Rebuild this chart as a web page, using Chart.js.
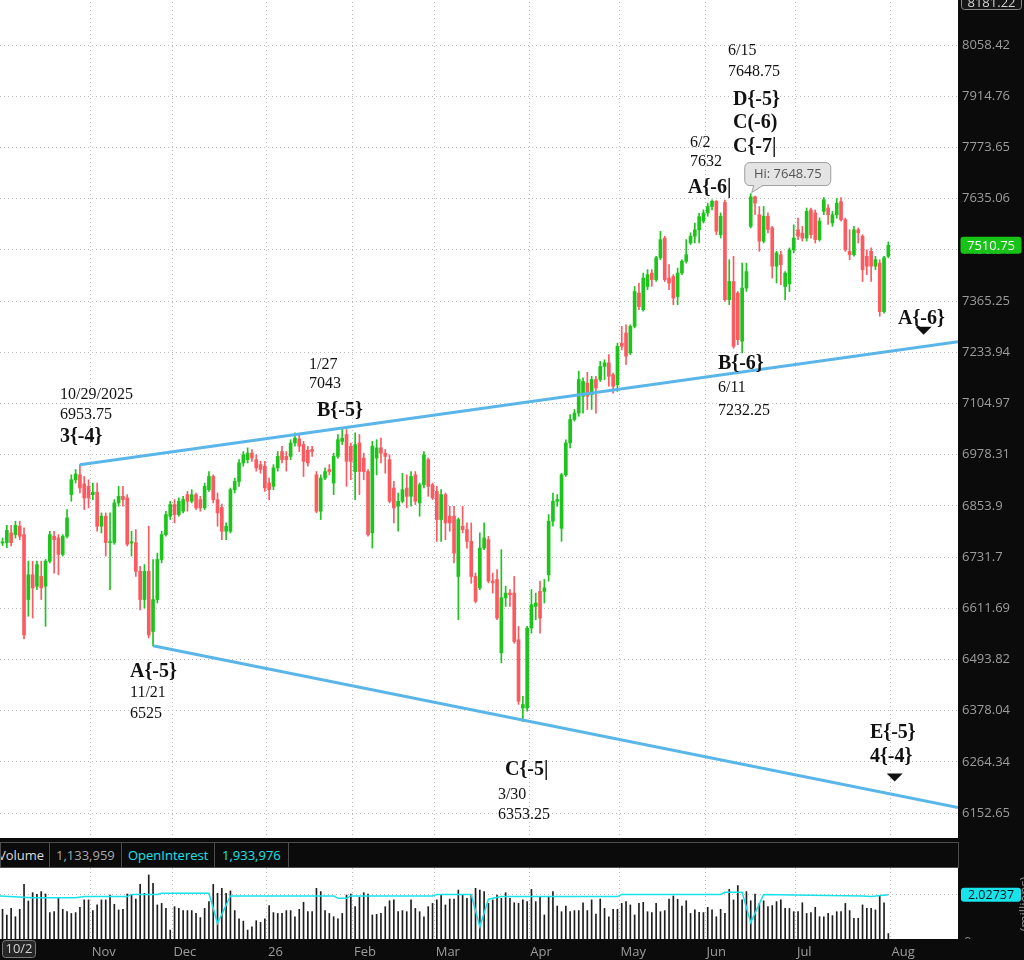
<!DOCTYPE html>
<html>
<head>
<meta charset="utf-8">
<script src="https://cdn.jsdelivr.net/npm/chart.js@4.4.1/dist/chart.umd.min.js"></script>
<style>
  html, body { margin: 0; padding: 0; background: #0b0b0b; width: 1024px; height: 960px; overflow: hidden; }
  #price { position: absolute; left: 0; top: 0; }
  #vol { position: absolute; left: 0; top: 868px; }
  #strip { position: absolute; left: 0; top: 842px; width: 959px; height: 26px; box-sizing: border-box;
           border: 1px solid #4d4d4d; background: #0b0b0b; font: 13px "Open Sans", sans-serif; overflow: hidden; }
  #strip span { position: absolute; top: 0; line-height: 24px; white-space: nowrap; }
  #strip i { position: absolute; top: 0; width: 1px; height: 24px; background: #4d4d4d; }
</style>
</head>
<body>
<canvas id="price" width="1024" height="840"></canvas>
<div id="strip">
  <span style="left:-3px;color:#dcdcdc">Volume</span><i style="left:48px"></i>
  <span style="left:55px;color:#a8a8a8">1,133,959</span><i style="left:120px"></i>
  <span style="left:127px;color:#19e3ea">OpenInterest</span><i style="left:213px"></i>
  <span style="left:221px;color:#19e3ea">1,933,976</span><i style="left:287px"></i>
</div>
<canvas id="vol" width="1024" height="92"></canvas>
<script>
// daily bars [open, high, low, close], one array per month (10/2/2025 .. 7/31/2026)
const oct = [
  [6770,6790,6752,6768],[6765,6777,6759,6768],[6766,6807,6754,6795],[6789,6807,6758,6766],[6785,6817,6777,6807],
  [6805,6817,6773,6781],[6785,6801,6541,6550],[6632,6722,6593,6690],[6690,6722,6589,6659],[6663,6722,6655,6714],
  [6686,6722,6632,6659],[6663,6726,6570,6722],[6722,6793,6718,6785],[6781,6793,6694,6773],[6777,6785,6690,6738],
  [6738,6785,6734,6781],[6781,6845,6777,6825],[6881,6929,6865,6917],[6917,6942,6909,6931],[6929,6953.75,6885,6897],
  [6907,6925,6845,6873],[6901,6917,6849,6873]
];
const nov = [
  [6881,6909,6869,6887],[6887,6909,6793,6805],[6805,6837,6789,6829],[6829,6837,6734,6766],[6766,6837,6655,6768],
  [6766,6869,6762,6861],[6861,6901,6853,6877],[6877,6901,6853,6869],[6873,6881,6758,6762],[6765,6793,6734,6768],
  [6766,6797,6686,6698],[6698,6710,6608,6632],[6632,6714,6612,6698],[6698,6805,6543,6550],[6558,6726,6525,6632],
  [6632,6741,6624,6726],[6726,6793,6718,6785],[6785,6841,6781,6833],[6829,6865,6821,6857]
];
const dec = [
  [6857,6869,6813,6833],[6833,6873,6829,6865],[6841,6877,6837,6869],[6881,6889,6841,6865],[6865,6893,6861,6881],
  [6881,6885,6845,6849],[6869,6877,6841,6849],[6849,6909,6845,6901],[6893,6937,6889,6925],[6925,6929,6861,6869],
  [6869,6885,6805,6837],[6850,6858,6773,6793],[6793,6813,6773,6805],[6793,6897,6789,6893],[6893,6921,6885,6913],
  [6913,6966,6901,6958],[6958,6986,6950,6978],[6966,6995,6958,6982],[6982,6991,6962,6970],[6966,6978,6938,6946],
  [6954,6962,6933,6942],[6950,6962,6889,6897]
];
const jan = [
  [6909,6921,6869,6893],[6901,6954,6893,6946],[6946,6986,6938,6974],[6986,6999,6958,6966],[6974,6986,6938,6966],
  [6974,7015,6966,7007],[7007,7032,6999,7019],[7017,7028,6986,6999],[7003,7011,6925,6962],[6989,6999,6950,6958],
  [6991,6999,6974,6986],[6929,6937,6837,6841],[6841,6929,6821,6921],[6921,6946,6917,6937],[6942,6954,6929,6937],
  [6909,6982,6881,6974],[6974,7028,6970,7015],[7011,7043,7003,7019],[7028,7040,6901,6962],[6999,7007,6917,6962]
];
const feb = [
  [6937,7032,6869,7003],[7007,7028,6881,6937],[6970,6982,6917,6937],[6937,6942,6781,6785],[6789,7011,6753,6999],
  [6970,7015,6929,6995],[6995,7019,6958,6982],[6982,6991,6933,6974],[6966,6978,6861,6865],[6897,6913,6813,6849],
  [6853,6885,6793,6865],[6865,6933,6861,6893],[6897,6929,6849,6877],[6877,6937,6853,6925],[6929,6937,6857,6865],
  [6861,6909,6829,6905],[6905,6986,6897,6978],[6966,6970,6877,6901],[6905,6909,6869,6873]
];
const mar = [
  [6889,6901,6769,6821],[6821,6893,6769,6881],[6881,6885,6773,6813],[6829,6853,6793,6813],[6829,6853,6718,6741],
  [6686,6825,6585,6821],[6805,6853,6789,6797],[6797,6813,6753,6769],[6769,6813,6670,6686],[6686,6694,6624,6628],
  [6659,6789,6655,6753],[6753,6813,6749,6777],[6773,6781,6671,6675],[6675,6694,6647,6671],[6679,6702,6585,6589],
  [6509,6749,6486,6636],[6636,6663,6616,6647],[6647,6655,6616,6643],[6647,6686,6531,6535],[6539,6570,6392,6399],
  [6384,6410,6353.25,6392],[6384,6570,6377,6566]
];
const apr = [
  [6566,6655,6554,6620],[6616,6647,6585,6624],[6651,6675,6554,6589],[6651,6679,6624,6659],[6690,6833,6675,6817],
  [6817,6885,6805,6865],[6865,6881,6853,6869],[6800,6933,6769,6929],[6929,7015,6925,7007],[7007,7077,6995,7065],
  [7065,7090,7061,7081],[7081,7186,7073,7165],[7123,7169,7081,7160],[7156,7183,7090,7123],[7127,7173,7090,7165],
  [7165,7173,7081,7144],[7165,7211,7160,7198],[7198,7215,7165,7207],[7207,7228,7148,7173],[7177,7181,7131,7148],
  [7152,7257,7135,7249]
];
const may = [
  [7257,7300,7240,7249],[7283,7304,7203,7224],[7232,7304,7228,7300],[7300,7403,7296,7390],[7386,7412,7343,7351],
  [7343,7438,7339,7425],[7403,7447,7395,7434],[7438,7447,7403,7421],[7421,7482,7416,7478],[7478,7548,7473,7526],
  [7530,7535,7416,7421],[7425,7460,7395,7412],[7429,7434,7356,7373],[7377,7451,7356,7438],[7438,7473,7434,7469],
  [7469,7526,7464,7486],[7517,7544,7513,7535],[7535,7570,7517,7552],[7552,7596,7517,7587],[7575,7605,7570,7597]
];
const jun = [
  [7597,7623,7588,7614],[7614,7632,7605,7628],[7628,7630,7539,7548],[7539,7597,7530,7588],[7625,7631,7364,7369],
  [7369,7473,7356,7416],[7416,7482,7244,7249],[7386,7390,7253,7266],[7262,7464,7232.25,7399],[7399,7464,7390,7442],
  [7561,7648.75,7557,7640],[7640,7642,7592,7623],[7592,7614,7495,7522],[7522,7614,7517,7588],[7588,7597,7544,7553],
  [7557,7561,7425,7456],[7456,7495,7412,7491],[7486,7495,7408,7460],[7403,7442,7369,7438],[7410,7504,7390,7499],
  [7499,7565,7491,7530]
];
const jul = [
  [7552,7583,7526,7535],[7543,7561,7522,7530],[7530,7610,7522,7601],[7605,7610,7530,7539],[7597,7605,7517,7526],
  [7526,7584,7522,7575],[7601,7638,7592,7632],[7610,7619,7566,7592],[7570,7601,7561,7592],[7592,7636,7583,7623],
  [7627,7638,7575,7579],[7579,7583,7495,7499],[7495,7552,7473,7486],[7486,7561,7482,7552],[7552,7557,7517,7544],
  [7535,7539,7416,7447],[7482,7499,7434,7456],[7495,7504,7416,7456],[7456,7482,7447,7473],[7464,7473,7326,7338],
  [7338,7482,7334,7478],[7482,7520,7478,7510.75]
];

// daily volume, millions
const volOct = [1.30,1.36,1.10,1.40,1.02,1.36,2.50,1.74,2.12,2.04,2.17,2.06,1.21,1.25,1.86,1.36,1.25,1.17,1.21,1.45,1.79,1.79];
const volNov = [1.30,1.56,1.79,1.79,2.01,1.59,1.33,1.36,2.06,2.04,1.83,2.50,2.09,2.93,2.55,1.56,1.63,1.40,0.41];
const volDec = [1.48,1.40,1.30,1.30,1.30,1.17,0.98,1.40,1.71,2.50,2.09,2.32,2.09,2.20,1.30,0.92,0.82,0.41,0.56,0.84,0.76,0.92];
const volJan = [1.53,1.21,1.17,1.17,1.30,1.30,1.02,1.36,1.68,1.25,1.25,2.32,2.17,1.30,1.17,1.02,0.92,1.17,2.01,2.06];
const volFeb = [1.48,1.91,2.12,2.06,1.10,1.13,1.17,1.48,1.75,1.79,1.25,1.30,1.25,1.79,1.40,1.25,1.02,1.48,1.63];
const volMar = [1.79,2.04,1.56,1.83,1.83,2.24,2.04,1.86,2.01,2.32,2.24,2.17,1.63,1.79,2.01,1.86,2.12,1.86,1.66,1.63,1.79,1.71];
const volApr = [2.27,1.71,1.91,1.10,1.94,2.17,1.51,1.25,1.51,1.25,1.30,1.30,1.66,1.30,1.79,1.14,1.83,1.40,1.02,1.36,1.36];
const volMay = [1.63,1.71,1.56,1.10,1.63,1.68,1.25,1.21,1.63,1.25,1.30,1.83,1.97,1.82,1.51,1.75,1.17,1.33,1.22,1.21];
const volJun = [1.45,1.33,1.02,1.36,1.17,2.27,1.79,2.44,1.79,2.17,1.75,2.06,1.63,1.75,1.48,1.53,1.71,1.79,1.40,1.40,1.25];
const volJul = [1.25,1.66,1.17,1.21,1.45,1.02,1.02,1.17,1.07,1.25,1.25,1.63,1.30,0.95,0.95,1.56,1.40,1.40,1.33,1.97,1.66,0.25];

// open interest, millions: [bar index, value]
const openInterest = [[0,1.97],[8,1.89],[18,1.89],[20,1.94],[30,1.94],[31,2.04],[37,2.04],[38,2.09],[49,2.09],[51,0.72],
  [54,1.97],[78,1.97],[79,1.86],[81,1.86],[82,1.97],[101,1.97],[102,2.04],[110,2.04],[112,0.56],[114,1.82],[117,1.94],
  [144,1.94],[145,2.04],[168,2.04],[169,2.14],[173,2.14],[175,0.75],[178,2.04],[185,2.01],[201,1.97],[203,1.94],[207,2.02737]];

const monthNames = ['Nov', 'Dec', '26', 'Feb', 'Mar', 'Apr', 'May', 'Jun', 'Jul', 'Aug'];
const priceTicks = [6152.65, 6264.34, 6378.04, 6493.82, 6611.69, 6731.7, 6853.9, 6978.31, 7104.97, 7233.94,
  7365.25, 7498.94, 7635.06, 7773.65, 7914.76, 8058.42];
const priceMin = 6099, priceMax = 8181.22, lastPrice = 7510.75;
const viewStart = 0.41, viewEnd = 223.2;

// trend lines [bar index, price]
const upperLine = [[19, 6953.75], [223.2, 7261]];
const lowerLine = [[36, 6525], [223.2, 6164.4]];

// chart notes [text, bar index, price, bold]
const notes = [
  ['10/29/2025', 14.36, 7117, 0], ['6953.75', 14.36, 7067, 0], ['3{-4}', 14.36, 7010, 1],
  ['1/27', 72.27, 7192, 0], ['7043', 72.27, 7144, 0], ['B{-5}', 74.13, 7074, 1],
  ['A{-5}', 30.64, 6454, 1], ['11/21', 30.64, 6408, 0], ['6525', 30.64, 6361, 0],
  ['C{-5|', 117.85, 6236, 1], ['3/30', 116.2, 6183, 0], ['6353.25', 116.2, 6140, 0],
  ['6/2', 160.87, 7774, 0], ['7632', 160.87, 7723, 0], ['A{-6|', 160.41, 7651, 1],
  ['6/15', 169.71, 8029, 0], ['7648.75', 169.71, 7972, 0], ['D{-5}', 170.87, 7891, 1],
  ['C(-6)', 170.87, 7828, 1], ['C{-7|', 170.87, 7762, 1],
  ['B{-6}', 167.38, 7192, 1], ['6/11', 167.38, 7133, 0], ['7232.25', 167.38, 7076, 0],
  ['A{-6}', 209.24, 7307, 1],
  ['E{-5}', 202.73, 6316, 1], ['4{-4}', 202.73, 6263, 1]
];
const markers = [[215.2, 7289], [208.47, 6230]];
const hiBar = 175, hiPrice = 7648.75;

const GREEN = '#1cc41c', RED = '#fb5a60', TREND = '#5ab6e8', GRID = '#bdbdbd', AXIS = '#9c9c9c';
Chart.defaults.font.family = '"Open Sans", sans-serif';
Chart.defaults.font.size = 13;

const candles = [].concat(oct, nov, dec, jan, feb, mar, apr, may, jun, jul);
const volumes = [].concat(volOct, volNov, volDec, volJan, volFeb, volMar, volApr, volMay, volJun, volJul);
const monthEdges = [];
let count = 0;
[oct, nov, dec, jan, feb, mar, apr, may, jun, jul].forEach(m => { count += m.length; monthEdges.push(count - 0.5); });

const candleColor = candles.map(c => c[3] >= c[0] ? GREEN : RED);
const wickData = candles.map((c, i) => ({ x: i, y: [c[2], c[1]] }));
const bodyData = candles.map((c, i) => ({ x: i, y: [c[0], c[3]] }));

function box(ctx, x, y, w, h, fill, stroke) {
  ctx.beginPath();
  ctx.roundRect(x, y, w, h, 3);
  ctx.fillStyle = fill;
  ctx.fill();
  if (stroke) { ctx.strokeStyle = stroke; ctx.lineWidth = 1; ctx.stroke(); }
}

const priceDecor = {
  id: 'priceDecor',
  beforeDraw(chart) {
    const { ctx, chartArea } = chart;
    ctx.save();
    ctx.fillStyle = '#0b0b0b';
    ctx.fillRect(0, 0, chart.width, chart.height);
    ctx.fillStyle = '#ffffff';
    ctx.fillRect(0, 0, chartArea.right, chartArea.bottom);
    ctx.restore();
  },
  afterDatasetsDraw(chart) {
    const { ctx, chartArea } = chart;
    const xs = chart.scales.x, ys = chart.scales.y;
    ctx.save();
    ctx.beginPath();
    ctx.rect(0, 0, chartArea.right, chartArea.bottom);
    ctx.clip();
    ctx.fillStyle = '#111';
    ctx.textAlign = 'left';
    ctx.textBaseline = 'alphabetic';
    notes.forEach(([t, i, p, b]) => {
      ctx.font = b ? 'bold 20px "Liberation Serif"' : '16px "Liberation Serif"';
      ctx.fillText(t, xs.getPixelForValue(i), ys.getPixelForValue(p));
    });
    markers.forEach(([i, p]) => {
      const x = xs.getPixelForValue(i), y = ys.getPixelForValue(p);
      ctx.beginPath();
      ctx.moveTo(x - 8, y - 4);
      ctx.lineTo(x + 8, y - 4);
      ctx.lineTo(x, y + 4);
      ctx.closePath();
      ctx.fill();
    });
    // high bubble
    const hx = xs.getPixelForValue(hiBar), hy = ys.getPixelForValue(hiPrice);
    const bx = hx - 6, by = hy - 31, bw = 86, bh = 23;
    ctx.beginPath();
    ctx.roundRect(bx, by, bw, bh, 5);
    ctx.fillStyle = '#e4e4e4';
    ctx.fill();
    ctx.strokeStyle = '#9d9d9d';
    ctx.lineWidth = 1;
    ctx.stroke();
    ctx.beginPath();
    ctx.moveTo(hx + 3, by + bh - 0.5);
    ctx.lineTo(hx + 1, hy - 1);
    ctx.lineTo(hx + 12, by + bh - 0.5);
    ctx.fillStyle = '#e4e4e4';
    ctx.fill();
    ctx.beginPath();
    ctx.moveTo(hx + 3, by + bh);
    ctx.lineTo(hx + 1, hy - 1);
    ctx.lineTo(hx + 12, by + bh);
    ctx.strokeStyle = '#9d9d9d';
    ctx.stroke();
    ctx.fillStyle = '#555';
    ctx.font = '13px "Open Sans"';
    ctx.textAlign = 'center';
    ctx.textBaseline = 'middle';
    ctx.fillText('Hi: ' + hiPrice, bx + bw / 2, by + bh / 2 + 0.5);
    ctx.restore();
  },
  afterDraw(chart) {
    const { ctx } = chart;
    const ys = chart.scales.y;
    ctx.save();
    ctx.font = '13px "Open Sans"';
    ctx.textAlign = 'center';
    ctx.textBaseline = 'middle';
    const yl = ys.getPixelForValue(lastPrice);
    box(ctx, 960.5, yl - 8.5, 61, 17, '#17c317');
    ctx.fillStyle = '#ffffff';
    ctx.fillText(lastPrice.toFixed(2), 991, yl + 0.5);
    const yt = ys.getPixelForValue(priceMax);
    box(ctx, 961.5, yt - 9.5, 60, 17, '#161616', '#8a8a8a');
    ctx.fillStyle = '#d4d4d4';
    ctx.fillText(priceMax.toFixed(2), 991.5, yt + 1);
    ctx.restore();
  }
};

new Chart(document.getElementById('price'), {
  type: 'bar',
  data: {
    datasets: [
      { type: 'line', data: upperLine.map(([x, y]) => ({ x, y })), borderColor: TREND, borderWidth: 3, pointRadius: 0, order: 0 },
      { type: 'line', data: lowerLine.map(([x, y]) => ({ x, y })), borderColor: TREND, borderWidth: 3, pointRadius: 0, order: 0 },
      { data: bodyData, backgroundColor: candleColor, barThickness: 3, grouped: false, minBarLength: 1, order: 1 },
      { data: wickData, backgroundColor: candleColor, barThickness: 1, grouped: false, minBarLength: 1, order: 2 }
    ]
  },
  options: {
    responsive: false,
    animation: false,
    events: [],
    layout: { padding: { top: 2, left: 0, right: 0, bottom: 0 } },
    plugins: { legend: { display: false }, tooltip: { enabled: false } },
    scales: {
      x: {
        type: 'linear', min: viewStart, max: viewEnd, offset: false, bounds: 'data',
        afterBuildTicks: s => { s.ticks = monthEdges.map(v => ({ value: v })); },
        afterFit: s => { s.height = 2; s.paddingLeft = 0; s.paddingRight = 0; },
        grid: { color: GRID, drawTicks: false, offset: false },
        border: { display: false, dash: [1, 3] },
        ticks: { display: false }
      },
      y: {
        type: 'logarithmic', position: 'right', min: priceMin, max: priceMax, bounds: 'data',
        afterBuildTicks: s => { s.ticks = priceTicks.map(v => ({ value: v })); },
        afterFit: s => { s.width = 66; s.paddingTop = 0; s.paddingBottom = 0; },
        grid: { color: GRID, drawTicks: false },
        border: { display: false, dash: [1, 3] },
        ticks: { color: AXIS, padding: 4, autoSkip: false, callback: v => String(v) }
      }
    }
  },
  plugins: [priceDecor]
});

const volDecor = {
  id: 'volDecor',
  beforeDraw(chart) {
    const { ctx, chartArea } = chart;
    ctx.save();
    ctx.fillStyle = '#0b0b0b';
    ctx.fillRect(0, 0, chart.width, chart.height);
    ctx.fillStyle = '#ffffff';
    ctx.fillRect(0, 0, chartArea.right, chartArea.bottom);
    ctx.restore();
  },
  afterDraw(chart) {
    const { ctx, chartArea } = chart;
    const ys = chart.scales.y;
    const oiLast = openInterest[openInterest.length - 1][1];
    ctx.save();
    ctx.textAlign = 'center';
    ctx.textBaseline = 'middle';
    box(ctx, 2.5, chartArea.bottom + 1.5, 33, 17, '#262626', '#7a7a7a');
    ctx.fillStyle = '#d4d4d4';
    ctx.font = '13px "Open Sans"';
    ctx.fillText('10/2', 19, chartArea.bottom + 10.5);
    const yo = ys.getPixelForValue(oiLast);
    box(ctx, 961, yo - 7, 60, 14, '#19e3ea');
    ctx.fillStyle = '#001414';
    ctx.font = '12.5px "Open Sans"';
    ctx.fillText(String(oiLast), 991, yo + 0.5);
    ctx.fillStyle = '#8a8a8a';
    ctx.font = '13px "Open Sans"';
    ctx.save();
    ctx.beginPath();
    ctx.rect(chartArea.right, 0, 66, chartArea.bottom);
    ctx.clip();
    ctx.textAlign = 'left';
    ctx.fillText('0', 964, chartArea.bottom + 3);
    ctx.restore();
    ctx.translate(1029, 36);
    ctx.rotate(-Math.PI / 2);
    ctx.textAlign = 'center';
    ctx.textBaseline = 'alphabetic';
    ctx.fillText('(millions)', 0, 0);
    ctx.restore();
  }
};

new Chart(document.getElementById('vol'), {
  type: 'bar',
  data: {
    datasets: [
      { type: 'line', data: openInterest.map(([x, y]) => ({ x, y })), borderColor: '#17e2ea', borderWidth: 1.5, pointRadius: 0, order: 0 },
      { data: volumes.map((v, i) => ({ x: i, y: v })), backgroundColor: '#1e1e1e', barThickness: 1, grouped: false, order: 1 }
    ]
  },
  options: {
    responsive: false,
    animation: false,
    events: [],
    layout: { padding: 0 },
    plugins: { legend: { display: false }, tooltip: { enabled: false } },
    scales: {
      x: {
        type: 'linear', min: viewStart, max: viewEnd, offset: false, bounds: 'data',
        afterBuildTicks: s => { s.ticks = monthEdges.map(v => ({ value: v })); },
        afterFit: s => { s.height = 21; s.paddingLeft = 0; s.paddingRight = 0; },
        grid: { color: GRID, drawTicks: false, offset: false },
        border: { display: false, dash: [1, 3] },
        ticks: { color: AXIS, align: 'start', labelOffset: 1, padding: 5, autoSkip: false, maxRotation: 0,
                 callback: (v, k) => monthNames[k] }
      },
      y: {
        position: 'right', min: 0, max: 3.25, bounds: 'data',
        afterBuildTicks: s => { s.ticks = [{ value: openInterest[openInterest.length - 1][1] }]; },
        afterFit: s => { s.width = 66; s.paddingTop = 0; s.paddingBottom = 0; },
        grid: { color: GRID, drawTicks: false },
        border: { display: false, dash: [1, 3] },
        ticks: { display: false }
      }
    }
  },
  plugins: [volDecor]
});
</script>
</body>
</html>
